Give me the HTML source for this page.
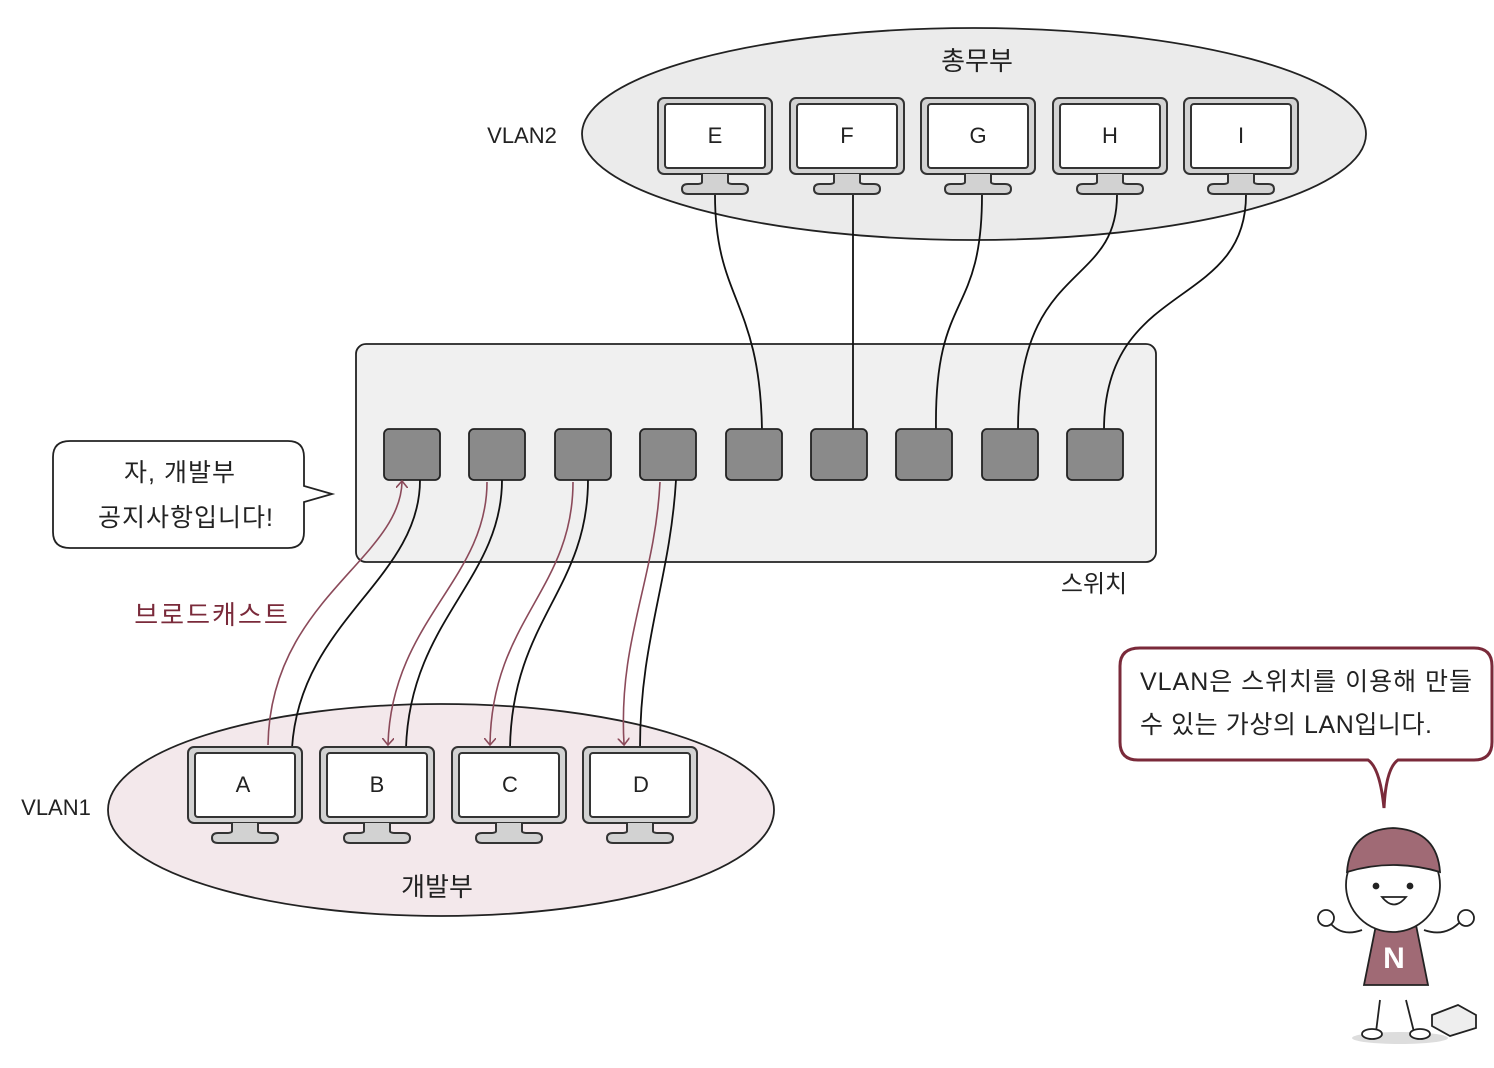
<!DOCTYPE html>
<html><head><meta charset="utf-8"><style>
html,body{margin:0;padding:0;background:#fff;}
svg{display:block;}
text{font-family:"Liberation Sans","Noto Sans CJK KR",sans-serif;}
</style></head><body>
<svg width="1494" height="1068" viewBox="0 0 1494 1068" xmlns="http://www.w3.org/2000/svg">
<defs>
<g id="mon">
  <rect x="0" y="0" width="114" height="76" rx="6" fill="#d2d2d2" stroke="#333" stroke-width="2"/>
  <rect x="7" y="6" width="100" height="64" rx="3" fill="#fff" stroke="#333" stroke-width="2"/>
  <path d="M44 76 L44 84 Q44 86 38 86 L30 86 Q24 86 24 91 Q24 96 30 96 L84 96 Q90 96 90 91 Q90 86 84 86 L76 86 Q70 86 70 84 L70 76" fill="#d2d2d2" stroke="#333" stroke-width="2"/>
</g>
<marker id="ah" markerWidth="12" markerHeight="12" refX="6" refY="6" orient="auto" markerUnits="userSpaceOnUse">
  <path d="M0 0 L7 6 L0 12" fill="none" stroke="#8b4a5a" stroke-width="1.6"/>
</marker>
</defs>

<ellipse cx="974" cy="134" rx="392" ry="106" fill="#ebebeb" stroke="#222" stroke-width="1.8"/>
<text x="977" y="70" font-size="26" text-anchor="middle" fill="#222">총무부</text>
<text x="522" y="143" font-size="22" text-anchor="middle" fill="#222">VLAN2</text>

<ellipse cx="441" cy="810" rx="333" ry="106" fill="#f3e8eb" stroke="#222" stroke-width="1.8"/>
<text x="437" y="896" font-size="26" text-anchor="middle" fill="#222">개발부</text>
<text x="56" y="815" font-size="22" text-anchor="middle" fill="#222">VLAN1</text>

<rect x="356" y="344" width="800" height="218" rx="10" fill="#f0f0f0" stroke="#222" stroke-width="1.8"/>
<text x="1094" y="592" font-size="24" text-anchor="middle" fill="#222">스위치</text>

<g fill="none" stroke="#111" stroke-width="1.8">
<path d="M715 195 C715 300 760 300 762 430"/>
<path d="M853 195 L853 430"/>
<path d="M982 195 C982 320 934 290 936 430"/>
<path d="M1117 195 C1117 290 1018 260 1018 430"/>
<path d="M1246 195 C1246 310 1104 280 1104 430"/>
</g>

<g fill="#8a8a8a" stroke="#222" stroke-width="1.8">
<rect x="384" y="429" width="56" height="51" rx="5"/>
<rect x="469" y="429" width="56" height="51" rx="5"/>
<rect x="555" y="429" width="56" height="51" rx="5"/>
<rect x="640" y="429" width="56" height="51" rx="5"/>
<rect x="726" y="429" width="56" height="51" rx="5"/>
<rect x="811" y="429" width="56" height="51" rx="5"/>
<rect x="896" y="429" width="56" height="51" rx="5"/>
<rect x="982" y="429" width="56" height="51" rx="5"/>
<rect x="1067" y="429" width="56" height="51" rx="5"/>
</g>

<g fill="none" stroke="#111" stroke-width="1.8">
<path d="M420 480 C420 580 300 620 292 748"/>
<path d="M502 480 C502 580 410 620 406 748"/>
<path d="M588 480 C588 590 512 620 510 748"/>
<path d="M676 480 C670 580 640 640 640 748"/>
</g>
<g fill="none" stroke="#8b4a5a" stroke-width="1.6">
<path d="M268 745 C270 600 400 560 402 482" marker-end="url(#ah)"/>
<path d="M487 482 C487 580 392 620 388 744" marker-end="url(#ah)"/>
<path d="M573 482 C573 590 492 620 490 744" marker-end="url(#ah)"/>
<path d="M660 482 C655 580 618 640 624 744" marker-end="url(#ah)"/>
</g>
<text x="212" y="624" font-size="26" text-anchor="middle" fill="#7a2a3a" letter-spacing="2">브로드캐스트</text>

<use href="#mon" x="658" y="98"/>
<use href="#mon" x="790" y="98"/>
<use href="#mon" x="921" y="98"/>
<use href="#mon" x="1053" y="98"/>
<use href="#mon" x="1184" y="98"/>
<g font-size="22" text-anchor="middle" fill="#222">
<text x="715" y="143">E</text><text x="847" y="143">F</text><text x="978" y="143">G</text><text x="1110" y="143">H</text><text x="1241" y="143">I</text>
</g>
<use href="#mon" x="188" y="747"/>
<use href="#mon" x="320" y="747"/>
<use href="#mon" x="452" y="747"/>
<use href="#mon" x="583" y="747"/>
<g font-size="22" text-anchor="middle" fill="#222">
<text x="243" y="792">A</text><text x="377" y="792">B</text><text x="510" y="792">C</text><text x="641" y="792">D</text>
</g>

<path d="M70 441 L288 441 Q304 441 304 457 L304 486 L332 494 L304 502 L304 532 Q304 548 288 548 L70 548 Q53 548 53 532 L53 457 Q53 441 70 441 Z" fill="#fff" stroke="#222" stroke-width="1.8"/>
<text x="180" y="481" font-size="25" text-anchor="middle" fill="#222" letter-spacing="1">자, 개발부</text>
<text x="186" y="526" font-size="25" text-anchor="middle" fill="#222" letter-spacing="1">공지사항입니다!</text>

<path d="M1140 648 L1474 648 Q1492 648 1492 666 L1492 742 Q1492 760 1474 760 L1398 760 Q1386 768 1384 808 Q1380 768 1368 760 L1138 760 Q1120 760 1120 742 L1120 666 Q1120 648 1140 648 Z" fill="#fff" stroke="#7a2a3a" stroke-width="3"/>
<text x="1140" y="690" font-size="25" fill="#222" textLength="332">VLAN은 스위치를 이용해 만들</text>
<text x="1140" y="733" font-size="25" fill="#222" textLength="292">수 있는 가상의 LAN입니다.</text>

<ellipse cx="1400" cy="1038" rx="48" ry="6" fill="#ddd"/>
<g stroke="#222" stroke-width="1.8">
<path d="M1380 1000 L1376 1032 M1406 1000 L1414 1032" fill="none"/>
<ellipse cx="1372" cy="1034" rx="10" ry="5" fill="#fff"/>
<ellipse cx="1420" cy="1034" rx="10" ry="5" fill="#fff"/>
<path d="M1362 930 Q1340 938 1328 920 M1424 930 Q1446 938 1462 920" fill="none"/>
<circle cx="1326" cy="918" r="8" fill="#fff"/>
<circle cx="1466" cy="918" r="8" fill="#fff"/>
<path d="M1376 925 L1416 925 L1428 985 L1364 985 Z" fill="#a06a75"/>
<circle cx="1393" cy="885" r="47" fill="#fff"/>
<path d="M1347 872 Q1350 830 1393 828 Q1437 830 1440 872 Q1393 858 1347 872 Z" fill="#a06a75"/>
<circle cx="1376" cy="886" r="2.5" fill="#222"/>
<circle cx="1410" cy="886" r="2.5" fill="#222"/>
<path d="M1382 897 Q1394 912 1406 897 Z" fill="#fff"/>
<path d="M1432 1015 L1458 1005 L1476 1015 L1476 1028 L1450 1036 L1432 1026 Z" fill="#eee"/>
</g>
<text x="1394" y="968" font-size="30" font-weight="bold" text-anchor="middle" fill="#fff">N</text>
</svg>
</body></html>
